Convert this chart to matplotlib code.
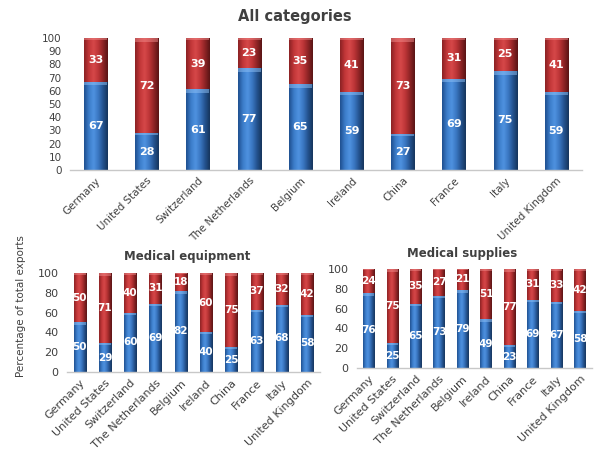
"""Share of exports by destination: three stacked 100% bar panels."""

import matplotlib

matplotlib.use("Agg")
import matplotlib.pyplot as plt
import numpy as np
from matplotlib.colors import LinearSegmentedColormap

COUNTRIES = [
    "Germany",
    "United States",
    "Switzerland",
    "The Netherlands",
    "Belgium",
    "Ireland",
    "China",
    "France",
    "Italy",
    "United Kingdom",
]

ALL_BLUE = [67, 28, 61, 77, 65, 59, 27, 69, 75, 59]
ALL_RED = [33, 72, 39, 23, 35, 41, 73, 31, 25, 41]

EQUIP_BLUE = [50, 29, 60, 69, 82, 40, 25, 63, 68, 58]
EQUIP_RED = [50, 71, 40, 31, 18, 60, 75, 37, 32, 42]

SUPPLY_BLUE = [76, 25, 65, 73, 79, 49, 23, 69, 67, 58]
SUPPLY_RED = [24, 75, 35, 27, 21, 51, 77, 31, 33, 42]

TEXT_GREY = "#404040"

BLUE_CMAP = LinearSegmentedColormap.from_list(
    "blue_cyl", ["#1f4f8f", "#3b7cc9", "#4f92e0", "#3a77c2", "#24528f", "#16355c"]
)
RED_CMAP = LinearSegmentedColormap.from_list(
    "red_cyl", ["#8a2224", "#c23638", "#d64849", "#bd3537", "#8e2425", "#591415"]
)
GRADIENT = np.linspace(0, 1, 64).reshape(1, -1)


def _shade(ax, bars, cmap, highlight):
    # paint a horizontal "cylinder" gradient inside each bar, plus a light top rim
    for bar in bars:
        x, y = bar.get_x(), bar.get_y()
        w, h = bar.get_width(), bar.get_height()
        img = ax.imshow(
            GRADIENT,
            cmap=cmap,
            extent=(x, x + w, y, y + h),
            aspect="auto",
            interpolation="bicubic",
            zorder=2,
        )
        img.set_clip_path(bar)
        ax.add_patch(
            plt.Rectangle((x, y + h * 0.97 - 0.6), w, h * 0.03 + 0.6, color=highlight, alpha=0.5, lw=0, zorder=3)
        )


def _panel(ax, blue, red, ystep, width, label_size, tick_size):
    pos = np.arange(len(COUNTRIES))
    blue_bars = ax.bar(pos, blue, width, color="#3a77c2", edgecolor="none", zorder=1)
    red_bars = ax.bar(pos, red, width, bottom=blue, color="#bd3537", edgecolor="none", zorder=1)
    _shade(ax, blue_bars, BLUE_CMAP, "#8ec0f5")
    _shade(ax, red_bars, RED_CMAP, "#f08a8a")

    for p, b, r in zip(pos, blue, red):
        ax.text(p, b / 2, str(b), ha="center", va="center", color="white",
                fontsize=label_size, fontweight="bold", zorder=4)
        ax.text(p, b + r / 2, str(r), ha="center", va="center", color="white",
                fontsize=label_size, fontweight="bold", zorder=4)

    ax.set_xlim(-0.5, len(COUNTRIES) - 0.5)
    ax.set_ylim(0, 100)
    ax.set_yticks(np.arange(0, 101, ystep))
    ax.set_xticks(pos)
    ax.set_xticklabels(COUNTRIES, rotation=45, ha="right", rotation_mode="anchor")
    ax.tick_params(axis="both", length=0, colors=TEXT_GREY, labelsize=tick_size)
    ax.tick_params(axis="y", pad=6)
    ax.tick_params(axis="x", pad=4)
    for side in ("top", "right", "left"):
        ax.spines[side].set_visible(False)
    ax.spines["bottom"].set_color("#c8c8c8")
    ax.spines["bottom"].set_linewidth(1.0)


def main() -> None:
    fig = plt.figure(figsize=(6.05, 4.49), dpi=100)
    fig.patch.set_facecolor("white")

    ax_all = fig.add_axes([0.1157, 0.6214, 0.846, 0.294])
    ax_equip = fig.add_axes([0.1107, 0.1715, 0.418, 0.2205])
    ax_supply = fig.add_axes([0.590, 0.1804, 0.388, 0.2205])

    _panel(ax_all, ALL_BLUE, ALL_RED, 10, 0.45, 8, 7.5)
    _panel(ax_equip, EQUIP_BLUE, EQUIP_RED, 20, 0.48, 7.5, 8)
    _panel(ax_supply, SUPPLY_BLUE, SUPPLY_RED, 20, 0.48, 7.5, 8)

    fig.text(0.488, 0.963, "All categories", ha="center", va="center",
             fontsize=10.5, fontweight="bold", color=TEXT_GREY)
    fig.text(0.31, 0.428, "Medical equipment", ha="center", va="center",
             fontsize=8.5, fontweight="bold", color=TEXT_GREY)
    fig.text(0.764, 0.436, "Medical supplies", ha="center", va="center",
             fontsize=8.5, fontweight="bold", color=TEXT_GREY)
    fig.text(0.034, 0.318, "Percentage of total exports", rotation=90, ha="center",
             va="center", fontsize=7.5, color=TEXT_GREY)

    fig.savefig("out.png", dpi=100, facecolor="white")
    plt.close(fig)


if __name__ == "__main__":
    main()
